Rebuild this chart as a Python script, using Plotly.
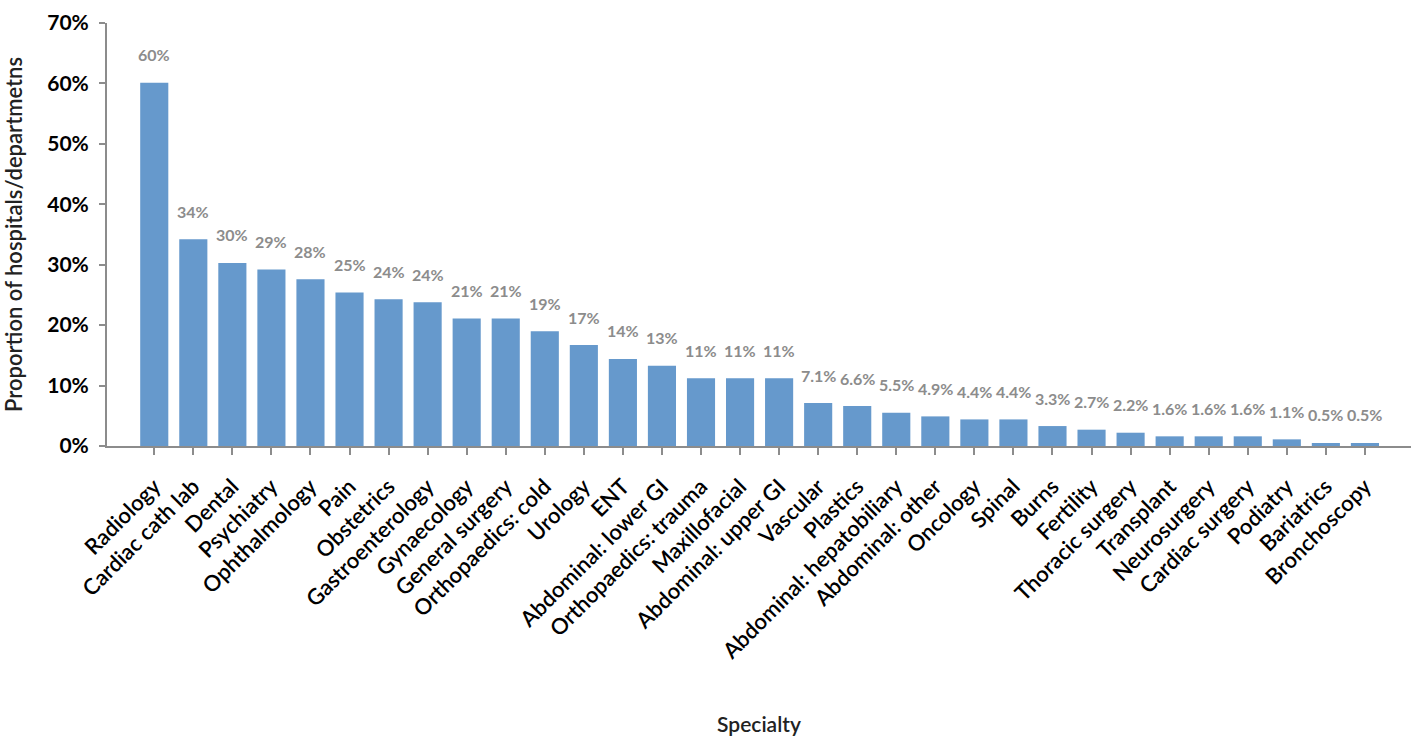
import plotly.graph_objects as go

# Share of hospitals/departments offering each specialty
specialties = [
    "Radiology", "Cardiac cath lab", "Dental", "Psychiatry", "Ophthalmology",
    "Pain", "Obstetrics", "Gastroenterology", "Gynaecology", "General surgery",
    "Orthopaedics: cold", "Urology", "ENT", "Abdominal: lower GI",
    "Orthopaedics: trauma", "Maxillofacial", "Abdominal: upper GI", "Vascular",
    "Plastics", "Abdominal: hepatobiliary", "Abdominal: other", "Oncology",
    "Spinal", "Burns", "Fertility", "Thoracic surgery", "Transplant",
    "Neurosurgery", "Cardiac surgery", "Podiatry", "Bariatrics", "Bronchoscopy",
]
proportions = [
    0.601, 0.342, 0.303, 0.292, 0.276,
    0.254, 0.243, 0.238, 0.211, 0.211,
    0.190, 0.167, 0.144, 0.133,
    0.112, 0.112, 0.112, 0.071,
    0.066, 0.055, 0.049, 0.044,
    0.044, 0.033, 0.027, 0.022, 0.016,
    0.016, 0.016, 0.011, 0.005, 0.005,
]
y_ticks = [0, 0.1, 0.2, 0.3, 0.4, 0.5, 0.6, 0.7]
y_tick_labels = ["0%", "10%", "20%", "30%", "40%", "50%", "60%", "70%"]

FONT = "Lato"
BAR_COLOR = "#6699CC"
LABEL_GREY = "#8C8C8C"
AXIS_GREY = "#8C8C8C"


def pct_label(v):
    # whole percent above 10%, one decimal below
    return f"{v * 100:.0f}%" if v >= 0.1 else f"{v * 100:.1f}%"


fig = go.Figure(
    go.Bar(
        x=specialties,
        y=proportions,
        marker=dict(color=BAR_COLOR, line=dict(width=0)),
        hovertemplate="%{x}: %{y:.1%}<extra></extra>",
    )
)

for name, v in zip(specialties, proportions):
    fig.add_annotation(
        x=name, y=v, xref="x", yref="y",
        text=pct_label(v), showarrow=False,
        yanchor="middle", yshift=28,
        font=dict(family=FONT, size=16, color=LABEL_GREY, weight="bold"),
    )

fig.update_layout(
    width=1419, height=740,
    margin=dict(l=107, r=8, t=23, b=294),
    paper_bgcolor="white", plot_bgcolor="white",
    bargap=0.28,
    showlegend=False,
    font=dict(family=FONT, color="black"),
)

fig.update_xaxes(
    range=[-1.21, 32.18],
    automargin=False,
    tickangle=-45,
    tickfont=dict(family=FONT, size=22, color="black", weight=600),
    ticklabelstandoff=10,
    showline=True, linecolor=AXIS_GREY, linewidth=2,
    ticks="outside", ticklen=7, tickcolor=AXIS_GREY, tickwidth=2,
    showgrid=False, zeroline=False,
    title=dict(text="Specialty", standoff=54,
               font=dict(family=FONT, size=21, color="#222222", weight=600)),
)

fig.update_yaxes(
    range=[0, 0.7],
    automargin=False,
    tickvals=y_ticks, ticktext=y_tick_labels,
    tickfont=dict(family=FONT, size=21, color="black", weight="bold"),
    ticklabelstandoff=6,
    showline=True, linecolor=AXIS_GREY, linewidth=2,
    ticks="outside", ticklen=6, tickcolor=AXIS_GREY, tickwidth=2,
    showgrid=False, zeroline=False,
    title=dict(text="Proportion of hospitals/departmetns", standoff=20,
               font=dict(family=FONT, size=22, color="#222222", weight=600)),
)

fig.write_html("out.html")
